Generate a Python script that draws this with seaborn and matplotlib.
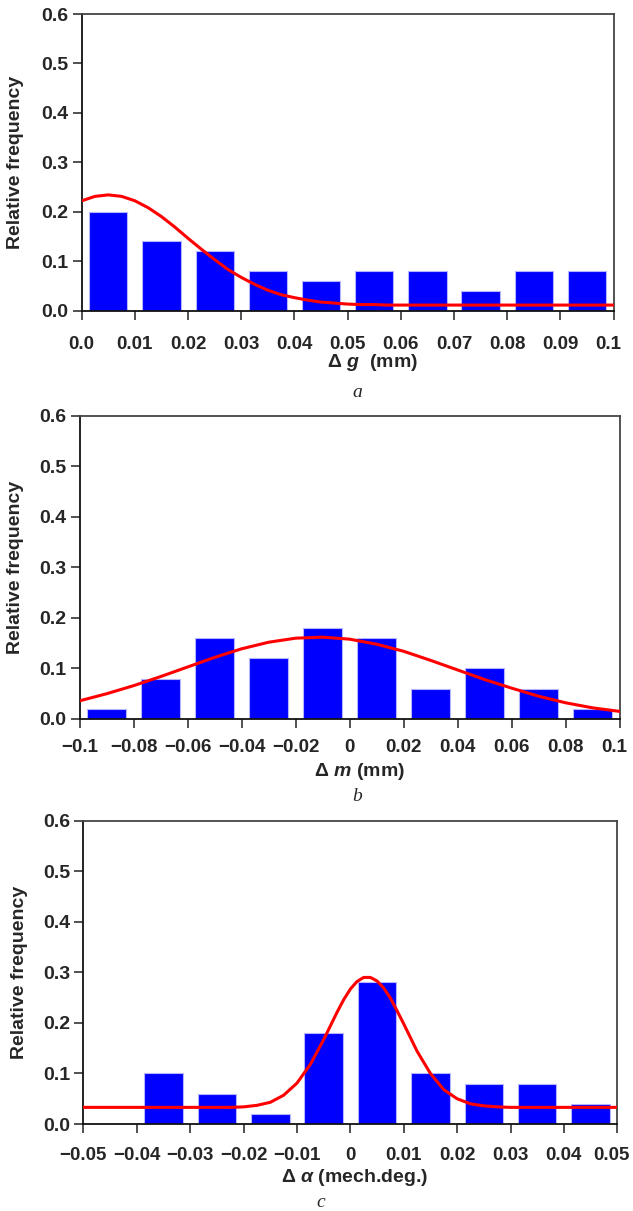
import numpy as np
import pandas as pd
import seaborn as sns
import matplotlib.pyplot as plt
from matplotlib.transforms import ScaledTranslation

# panel a: delta g (mm)
g_edges = [0.0, 0.01, 0.02, 0.03, 0.04, 0.05, 0.06, 0.07, 0.08, 0.09, 0.10]
g_freq = [0.20, 0.14, 0.12, 0.08, 0.06, 0.08, 0.08, 0.04, 0.08, 0.08]
g_fit_x = [0.0, 0.0025, 0.005, 0.0075, 0.01, 0.0125, 0.015, 0.0175, 0.02, 0.0225,
           0.025, 0.0275, 0.03, 0.0325, 0.035, 0.0375, 0.04, 0.0425, 0.045, 0.0475,
           0.05, 0.0525, 0.055, 0.0575, 0.07, 0.085, 0.10]
g_fit_y = [0.222, 0.231, 0.234, 0.231, 0.222, 0.208, 0.190, 0.169, 0.146, 0.124,
           0.103, 0.083, 0.067, 0.053, 0.041, 0.032, 0.026, 0.021, 0.017, 0.015,
           0.013, 0.012, 0.012, 0.011, 0.011, 0.011, 0.011]
g_ticklabels = ["0.0", "0.01", "0.02", "0.03", "0.04", "0.05", "0.06", "0.07", "0.08", "0.09", "0.1"]

# panel b: delta m (mm)
m_edges = [-0.10, -0.08, -0.06, -0.04, -0.02, 0.0, 0.02, 0.04, 0.06, 0.08, 0.10]
m_freq = [0.02, 0.08, 0.16, 0.12, 0.18, 0.16, 0.06, 0.10, 0.06, 0.02]
m_fit_x = [-0.10, -0.09, -0.08, -0.07, -0.06, -0.05, -0.04, -0.03, -0.02, -0.01, 0.0,
           0.01, 0.02, 0.03, 0.04, 0.05, 0.06, 0.07, 0.08, 0.09, 0.10]
m_fit_y = [0.036, 0.050, 0.066, 0.084, 0.103, 0.122, 0.139, 0.152, 0.160, 0.162, 0.158,
           0.148, 0.134, 0.116, 0.097, 0.078, 0.061, 0.045, 0.032, 0.022, 0.015]
m_ticklabels = ["\u22120.1", "\u22120.08", "\u22120.06", "\u22120.04", "\u22120.02", "0",
                "0.02", "0.04", "0.06", "0.08", "0.1"]

# panel c: delta alpha (mech.deg.)
a_edges = [-0.05, -0.04, -0.03, -0.02, -0.01, 0.0, 0.01, 0.02, 0.03, 0.04, 0.05]
a_freq = [0.0, 0.10, 0.06, 0.02, 0.18, 0.28, 0.10, 0.08, 0.08, 0.04]
a_fit_x = [-0.05, -0.03, -0.0225, -0.02, -0.0175, -0.015, -0.0125, -0.01, -0.0075, -0.005,
           -0.00375, -0.0025, -0.00125, 0.0, 0.00125, 0.0025, 0.00375, 0.005, 0.00625, 0.0075,
           0.00875, 0.01, 0.0125, 0.015, 0.0175, 0.02, 0.0225, 0.025, 0.0275, 0.03, 0.05]
a_fit_y = [0.033, 0.033, 0.033, 0.034, 0.037, 0.043, 0.057, 0.081, 0.118, 0.167,
           0.194, 0.221, 0.246, 0.267, 0.282, 0.290, 0.290, 0.283, 0.269, 0.249,
           0.224, 0.198, 0.144, 0.100, 0.068, 0.050, 0.040, 0.036, 0.034, 0.033, 0.033]
a_ticklabels = ["\u22120.05", "\u22120.04", "\u22120.03", "\u22120.02", "\u22120.01", "0",
                "0.01", "0.02", "0.03", "0.04", "0.05"]

y_ticks = [0.0, 0.1, 0.2, 0.3, 0.4, 0.5, 0.6]

sns.set_style("ticks")
plt.rcParams["font.family"] = ["Liberation Sans", "DejaVu Sans"]
plt.rcParams["font.weight"] = "bold"
plt.rcParams["mathtext.fontset"] = "custom"
plt.rcParams["mathtext.it"] = "Liberation Sans:italic:bold"
plt.rcParams["mathtext.rm"] = "Liberation Sans:bold"

fig = plt.figure(figsize=(6.33, 12.11), dpi=100)

panels = [
    dict(edges=g_edges, freq=g_freq, fx=g_fit_x, fy=g_fit_y, labels=g_ticklabels,
         xlabel="\u0394 $\\mathit{g}$  (mm)", rect=[0.1291, 0.7436, 0.8401, 0.2448],
         pad=12, xl=(0.546, -0.177), yl=(-0.124, 0.5), letter="a", lpos=(0.565, 0.6763)),
    dict(edges=m_edges, freq=m_freq, fx=m_fit_x, fy=m_fit_y, labels=m_ticklabels,
         xlabel="\u0394 $\\mathit{m}$ (mm)", rect=[0.1259, 0.4063, 0.8531, 0.2502],
         pad=8, xl=(0.518, -0.175), yl=(-0.118, 0.5), letter="b", lpos=(0.565, 0.3419)),
    dict(edges=a_edges, freq=a_freq, fx=a_fit_x, fy=a_fit_y, labels=a_ticklabels,
         xlabel="\u0394 $\\mathit{\u03b1}$ (mech.deg.)", rect=[0.1318, 0.0718, 0.8434, 0.2505],
         pad=10, xl=(0.508, -0.175), yl=(-0.12, 0.5), letter="c", lpos=(0.507, 0.0074)),
]

for p in panels:
    ax = fig.add_axes(p["rect"])
    edges = p["edges"]
    centers = [(lo + hi) / 2 for lo, hi in zip(edges[:-1], edges[1:])]
    bars = pd.DataFrame({"x": centers, "w": p["freq"]})
    sns.histplot(data=bars, x="x", weights="w", bins=edges, shrink=0.72, stat="count",
                 color="#0000ff", edgecolor="#b4b4ff", linewidth=0.8, alpha=1, ax=ax)
    fit = pd.DataFrame({"x": p["fx"], "y": p["fy"]})
    sns.lineplot(data=fit, x="x", y="y", color="#ff0000", linewidth=2.2,
                 estimator=None, sort=False, ax=ax, zorder=3)

    ax.set_xlim(edges[0], edges[-1])
    ax.set_ylim(0, 0.6)
    ax.set_xticks(edges)
    ax.set_xticklabels(p["labels"], fontsize=13.5, fontweight="bold")
    ax.set_yticks(y_ticks)
    ax.set_yticklabels(["%.1f" % v for v in y_ticks], fontsize=14, fontweight="bold")
    ax.tick_params(axis="both", direction="out", length=6.5, width=1.1, color="#222222")
    ax.tick_params(axis="x", pad=p["pad"])
    ax.tick_params(axis="y", pad=3)

    for side in ["left", "bottom"]:
        ax.spines[side].set_color("#111111")
        ax.spines[side].set_linewidth(1.3)
    for side in ["top", "right"]:
        ax.spines[side].set_visible(True)
        ax.spines[side].set_color("#444444")
        ax.spines[side].set_linewidth(1.3)

    ax.set_xlabel(p["xlabel"], fontsize=14, fontweight="bold", va="center")
    ax.xaxis.set_label_coords(*p["xl"])
    ax.set_ylabel("Relative frequency", fontsize=14, fontweight="bold", va="center")
    ax.yaxis.set_label_coords(*p["yl"])

    # keep the last tick label inside the figure edge
    last = ax.get_xticklabels()[-1]
    last.set_transform(last.get_transform() + ScaledTranslation(-4 / 72, 0, fig.dpi_scale_trans))

    fig.text(p["lpos"][0], p["lpos"][1], p["letter"], fontsize=14, style="italic",
             fontweight="normal", family="Liberation Serif", ha="center", va="center")

fig.savefig("out.png", dpi=100)
